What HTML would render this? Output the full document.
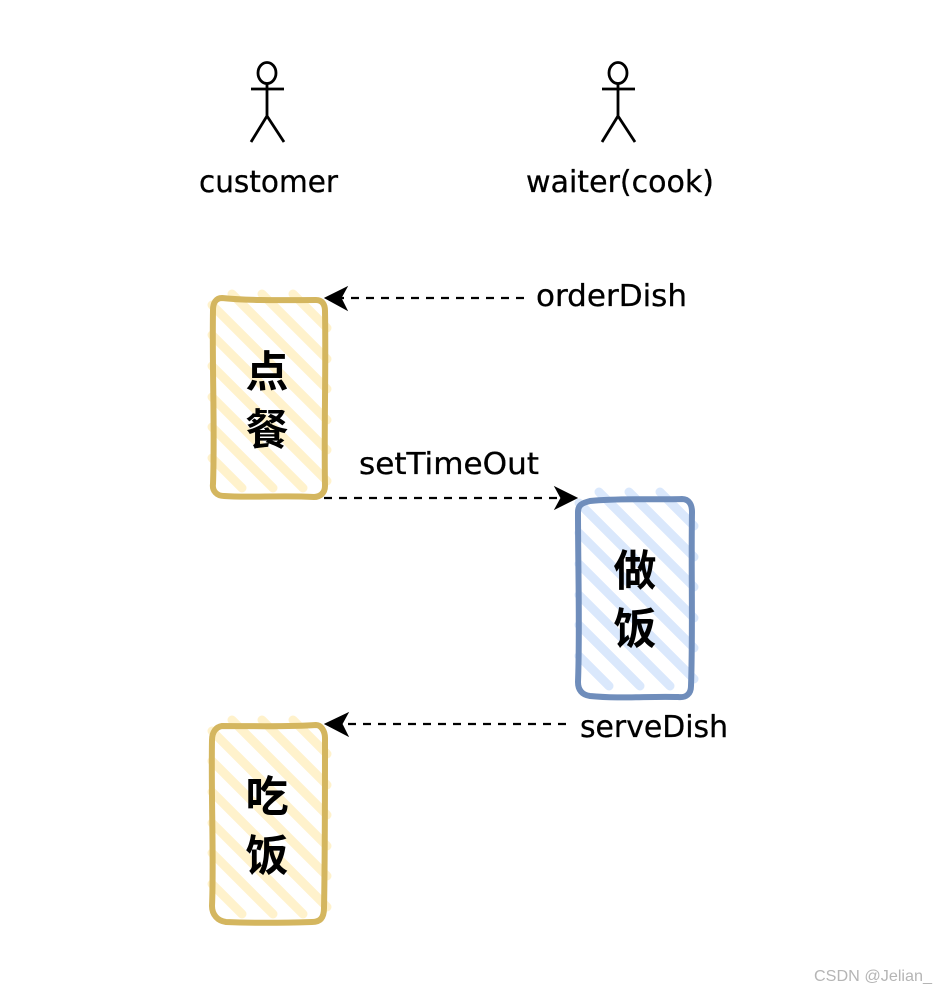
<!DOCTYPE html>
<html><head><meta charset="utf-8"><style>
html,body{margin:0;padding:0;background:#fff}
svg{display:block}
.l{font-family:"DejaVu Sans","Liberation Sans",sans-serif;font-size:30px;fill:#000;stroke:#000;stroke-width:.3}
.c{font-family:"Noto Sans CJK SC","WenQuanYi Zen Hei",sans-serif;font-size:43px;font-weight:700;fill:#000;text-anchor:middle}
.a{fill:none;stroke:#000;stroke-width:2.8}
.d{fill:none;stroke:#000;stroke-width:2.2;stroke-dasharray:8 7}
.h{fill:none;stroke-width:9;stroke-linecap:round}
.b{fill:none;stroke-width:6;stroke-linejoin:round;stroke-linecap:round}
</style></head><body>
<svg width="936" height="990" viewBox="0 0 936 990" xmlns="http://www.w3.org/2000/svg">
<defs>
<g id="hatch">
<path d="M293 294L327 328M262 294L327 359M232 294L327 389M212 305L327 420M212 335L327 450M212 366L327 481M212 397L303 488M212 427L273 488M212 458L242 488"/>
</g>
<g id="actor">
<ellipse cx="267" cy="73" rx="9" ry="10.5" class="a"/>
<path class="a" d="M267 83V116M251 89H284M267 116L251 142M267 116L284 142"/>
</g>
</defs>

<use href="#actor"/>
<use href="#actor" x="351"/>
<text class="l" x="199" y="192" textLength="139" lengthAdjust="spacingAndGlyphs">customer</text>
<text class="l" x="526" y="192" textLength="188" lengthAdjust="spacingAndGlyphs">waiter(cook)</text>

<!-- box 1 -->
<use href="#hatch" class="h" stroke="#fff2cc"/>
<path class="b" stroke="#d4b65f" d="M222 298C250 301 290 300 316 300C322 300 325 304 325 311C326 370 324 430 325 486C325 493 320 497 314 497C280 495 250 498 224 496C217 496 212 491 213 484C215 430 212 370 213 310C213 303 216 298 222 298Z"/>
<text class="c" x="267" y="387">点</text>
<text class="c" x="267" y="445">餐</text>

<!-- box 2 -->
<use href="#hatch" class="h" stroke="#dae8fc" transform="translate(367,198)"/>
<path class="b" stroke="#6f8dbb" d="M590 501C620 498 655 500 682 499C689 499 692 505 692 512C691 570 693 630 691 686C691 694 686 698 678 697C650 696 620 699 590 696C582 695 578 690 578 682C580 630 578 570 578 512C578 505 582 503 590 501Z"/>
<text class="c" x="635" y="586">做</text>
<text class="c" x="635" y="644">饭</text>

<!-- box 3 -->
<use href="#hatch" class="h" stroke="#fff2cc" transform="translate(0,426)"/>
<path class="b" stroke="#d4b65f" d="M222 726C250 726 290 727 316 725C321 725 325 731 325 738C325 800 325 860 324 908C324 918 320 922 312 922C280 923 250 923 226 922C218 921 212 915 212 906C214 860 211 800 212 740C212 732 216 727 222 726Z"/>
<text class="c" x="267" y="812">吃</text>
<text class="c" x="267" y="871">饭</text>

<!-- connectors -->
<path class="d" d="M524 298H340"/>
<path d="M325 298L347 287L341 298L347 310Z" fill="#000" stroke="#000"/>
<text class="l" x="536" y="306" textLength="151" lengthAdjust="spacingAndGlyphs">orderDish</text>

<path class="d" d="M324 498H562"/>
<path d="M577 498L555 487L561 498L555 509Z" fill="#000" stroke="#000"/>
<text class="l" x="359" y="474" textLength="180" lengthAdjust="spacingAndGlyphs">setTimeOut</text>

<path class="d" d="M566 724H340"/>
<path d="M325 724L348 713L342 724L348 736Z" fill="#000" stroke="#000"/>
<text class="l" x="580" y="737" textLength="148" lengthAdjust="spacingAndGlyphs">serveDish</text>

<text x="814" y="981" textLength="118" lengthAdjust="spacingAndGlyphs" style="font-family:'Liberation Sans',sans-serif;font-size:16px;fill:#b5b5b5">CSDN @Jelian_</text>
</svg>
</body></html>
